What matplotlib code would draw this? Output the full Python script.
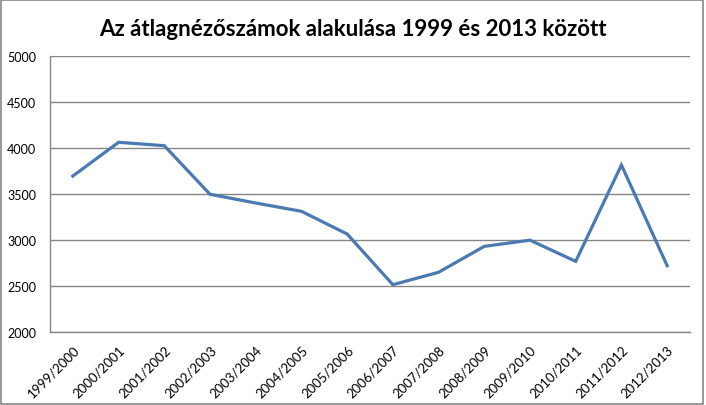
import matplotlib
matplotlib.use('Agg')
import matplotlib.pyplot as plt
from matplotlib.patches import Rectangle

seasons = ['1999/2000', '2000/2001', '2001/2002', '2002/2003', '2003/2004',
           '2004/2005', '2005/2006', '2006/2007', '2007/2008', '2008/2009',
           '2009/2010', '2010/2011', '2011/2012', '2012/2013']
avg_attendance = [3695, 4062, 4025, 3497, 3402, 3312, 3065,
                  2514, 2649, 2931, 2998, 2768, 3815, 2721]
y_ticks = [2000, 2500, 3000, 3500, 4000, 4500, 5000]

plt.rcParams['font.family'] = ['Lato', 'DejaVu Sans']

fig = plt.figure(figsize=(7.06, 4.06), dpi=100)
ax = fig.add_axes([50 / 706, 73 / 406, 640 / 706, 276 / 406])

x = range(len(seasons))
ax.plot(x, avg_attendance, color='#4A7AB0', linewidth=2.3, solid_joinstyle='miter')

ax.set_xlim(-0.5, len(seasons) - 0.5)
ax.set_ylim(2000, 5000)
ax.set_yticks(y_ticks)
ax.set_yticklabels([str(v) for v in y_ticks], fontsize=9)
ax.set_xticks(list(x))
ax.set_xticklabels(seasons, rotation=45, ha='right', rotation_mode='anchor', fontsize=9.5)
ax.tick_params(axis='x', length=0, pad=8)
ax.tick_params(axis='y', length=0, pad=10)

ax.grid(axis='y', color='#868686', linewidth=1)
ax.set_axisbelow(True)
for side in ['top', 'right']:
    ax.spines[side].set_visible(False)
for side in ['left', 'bottom']:
    ax.spines[side].set_color('#868686')
    ax.spines[side].set_linewidth(1)

fig.text(0.5, 1 - 30 / 406, 'Az átlagnézőszámok alakulása 1999 és 2013 között',
         ha='center', va='center', fontsize=16, fontweight='bold')

fig.patches.append(Rectangle((0.002, 0.003), 0.994, 0.994, transform=fig.transFigure,
                             fill=False, edgecolor='#868686', linewidth=1.2))

fig.savefig('out.png', dpi=100)
